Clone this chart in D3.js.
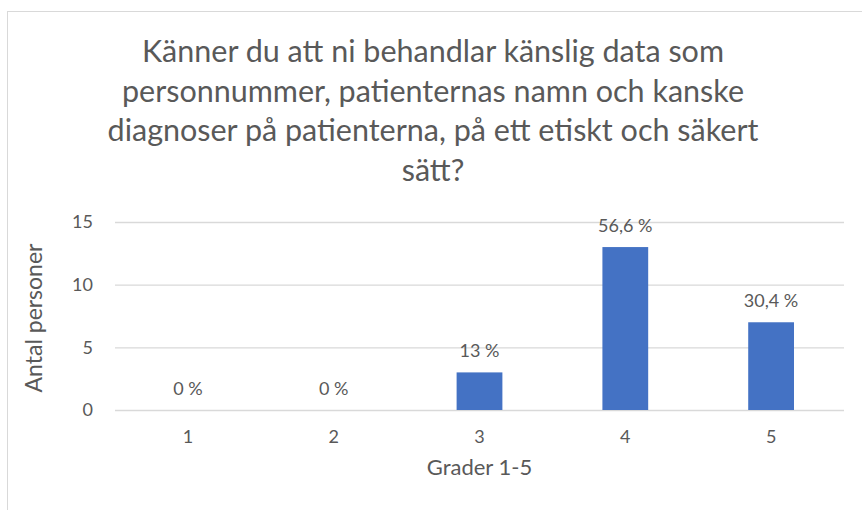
<!DOCTYPE html>
<html><head><meta charset="utf-8">
<script src="https://cdn.jsdelivr.net/npm/d3@7"></script>
<style>body{margin:0;background:#fff}svg{display:block}text{font-family:Lato,"Open Sans",sans-serif;fill:#595959}</style>
</head><body>
<svg id="c" width="862" height="510"></svg>
<script>
const categories = ["1","2","3","4","5"];
const values = [0, 0, 3, 13, 7];
const labels = ["0 %","0 %","13 %","56,6 %","30,4 %"];
const yTicks = [0, 5, 10, 15];
const titleLines = ["Känner du att ni behandlar känslig data som","personnummer, patienternas namn och kanske","diagnoser på patienterna, på ett etiskt och säkert","sätt?"];
const yTitle = "Antal personer";
const xTitle = "Grader 1-5";

const svg = d3.select("#c");
svg.append("rect").attr("x",7.5).attr("y",11.5).attr("width",900).attr("height",600)
  .attr("fill","#fff").attr("stroke","#d9d9d9");

const m = {left:115, right:844, top:222, bottom:410};
const x = d3.scaleBand().domain(categories).range([m.left,m.right]).paddingInner(0.686).paddingOuter(0.343);
const y = d3.scaleLinear().domain([0,15]).range([m.bottom,m.top]);

// title
const tt = svg.append("text").attr("text-anchor","middle").style("font-size","30.5px");
titleLines.forEach((l,i)=>tt.append("tspan").attr("x",433).attr("y",62+i*39.5).text(l));

// gridlines
svg.append("g").selectAll("line").data(yTicks).join("line")
  .attr("x1",m.left).attr("x2",m.right).attr("y1",d=>y(d)+0.5).attr("y2",d=>y(d)+0.5)
  .attr("stroke","#d9d9d9").attr("stroke-width",1.3);

// y axis labels
const ya = svg.append("g").attr("transform",`translate(${m.left-22},0)`)
  .call(d3.axisLeft(y).tickValues(yTicks).tickSize(0).tickPadding(0));
ya.select(".domain").remove();
ya.selectAll("text").style("font-size","18px").attr("fill","#595959").style("font-family","Lato,'Open Sans',sans-serif");

// x axis labels
const xa = svg.append("g").attr("transform",`translate(0,${m.bottom+20})`)
  .call(d3.axisBottom(x).tickSize(0).tickPadding(0));
xa.select(".domain").remove();
xa.selectAll("text").style("font-size","18px").attr("fill","#595959").style("font-family","Lato,'Open Sans',sans-serif");

// bars
svg.append("g").selectAll("rect").data(values).join("rect")
  .attr("x",(d,i)=>x(categories[i])).attr("width",x.bandwidth())
  .attr("y",d=>y(d)).attr("height",d=>y(0)-y(d)).attr("fill","#4472c4");

// data labels
svg.append("g").selectAll("text").data(values).join("text")
  .attr("x",(d,i)=>x(categories[i])+x.bandwidth()/2).attr("y",d=>y(d)-15)
  .attr("text-anchor","middle").style("font-size","18px").text((d,i)=>labels[i]);

// axis titles
svg.append("text").attr("transform",`translate(42,${(m.top+m.bottom)/2+2}) rotate(-90)`)
  .attr("text-anchor","middle").style("font-size","23px").text(yTitle);
svg.append("text").attr("x",(m.left+m.right)/2).attr("y",475)
  .attr("text-anchor","middle").style("font-size","22px").text(xTitle);
</script>
</body></html>
